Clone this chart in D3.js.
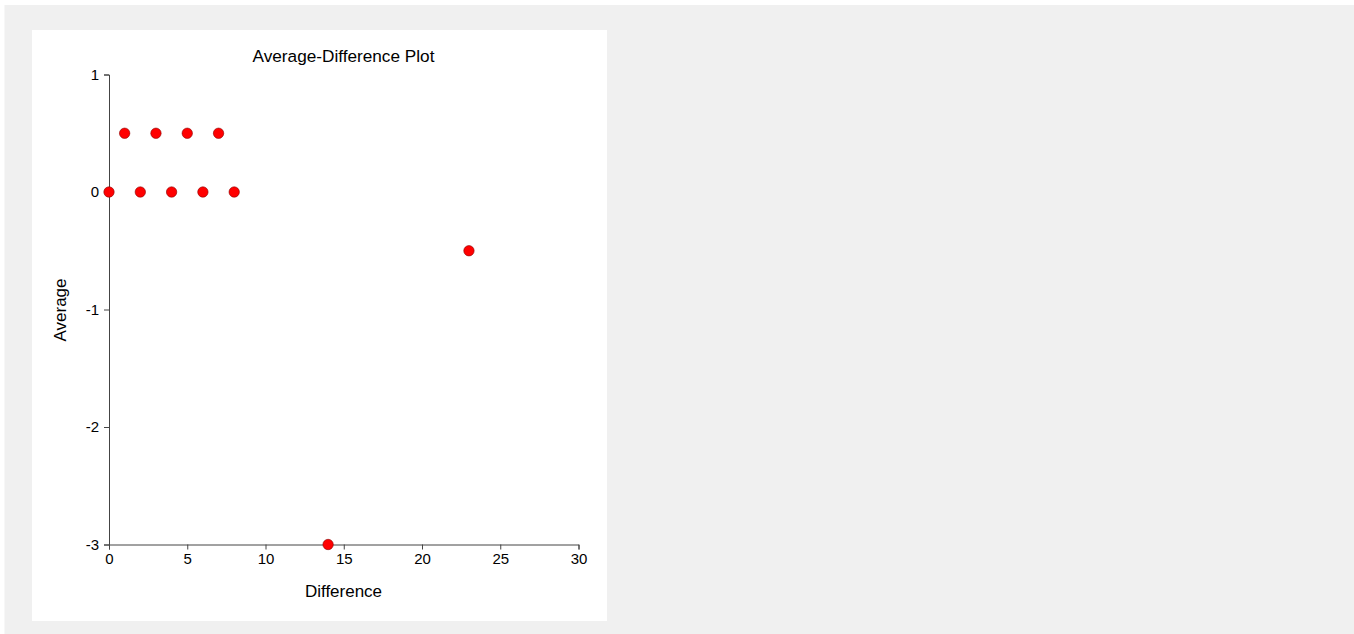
<!DOCTYPE html>
<html>
<head>
<meta charset="utf-8">
<script src="https://cdn.jsdelivr.net/npm/d3@7"></script>
<style>
  html, body { margin: 0; padding: 0; background: #ffffff; }
  svg { display: block; }
</style>
</head>
<body>
<svg id="chart" width="1354" height="634"></svg>
<script>
const differenceValues = [0, 1, 2, 3, 4, 5, 6, 7, 8, 14, 23];
const averageValues = [0, 0.5, 0, 0.5, 0, 0.5, 0, 0.5, 0, -3, -0.5];
const xTickValues = [0, 5, 10, 15, 20, 25, 30];
const yTickValues = [-3, -2, -1, 0, 1];
const chartTitle = "Average-Difference Plot";
const xAxisTitle = "Difference";
const yAxisTitle = "Average";

const svg = d3.select("#chart");
const font = "'Liberation Sans', Arial, sans-serif";

svg.append("rect").attr("x", 4.5).attr("y", 5).attr("width", 1354 - 4.5).attr("height", 634 - 5).attr("fill", "#f0f0f0");
svg.append("rect").attr("x", 32).attr("y", 30).attr("width", 575).attr("height", 591).attr("fill", "#ffffff");

const x = d3.scaleLinear().domain([0, 30]).range([109, 578.5]);
const y = d3.scaleLinear().domain([-3, 1]).range([544.5, 74.5]);

const fmt = d => String(d);
const xAxis = svg.append("g")
  .attr("transform", `translate(0,${y(-3)})`)
  .call(d3.axisBottom(x).tickValues(xTickValues).tickSize(5).tickPadding(4).tickFormat(fmt));
const yAxis = svg.append("g")
  .attr("transform", `translate(${x(0)},0)`)
  .call(d3.axisLeft(y).tickValues(yTickValues).tickSize(5).tickPadding(5).tickFormat(fmt));

[xAxis, yAxis].forEach(g => {
  g.attr("font-family", font).attr("font-size", 15);
  g.select(".domain").attr("stroke", "#444").attr("stroke-width", 1);
  g.selectAll(".tick line").attr("stroke", "#444").attr("stroke-width", 1);
  g.selectAll(".tick text").attr("fill", "#000");
});

svg.append("text").attr("x", 343.5).attr("y", 62).attr("text-anchor", "middle")
  .attr("font-family", font).attr("font-size", 17.2).attr("fill", "#000").text(chartTitle);
svg.append("text").attr("x", 343.5).attr("y", 597).attr("text-anchor", "middle")
  .attr("font-family", font).attr("font-size", 17).attr("fill", "#000").text(xAxisTitle);
svg.append("text").attr("transform", "translate(66,310) rotate(-90)").attr("text-anchor", "middle")
  .attr("font-family", font).attr("font-size", 17).attr("fill", "#000").text(yAxisTitle);

const points = differenceValues.map((d, i) => ({ d, a: averageValues[i] }));
svg.append("g").selectAll("circle").data(points).join("circle")
  .attr("cx", p => x(p.d)).attr("cy", p => y(p.a)).attr("r", 5.2)
  .attr("fill", "#ff0000").attr("stroke", "#8b0000").attr("stroke-width", 0.6);
</script>
</body>
</html>
